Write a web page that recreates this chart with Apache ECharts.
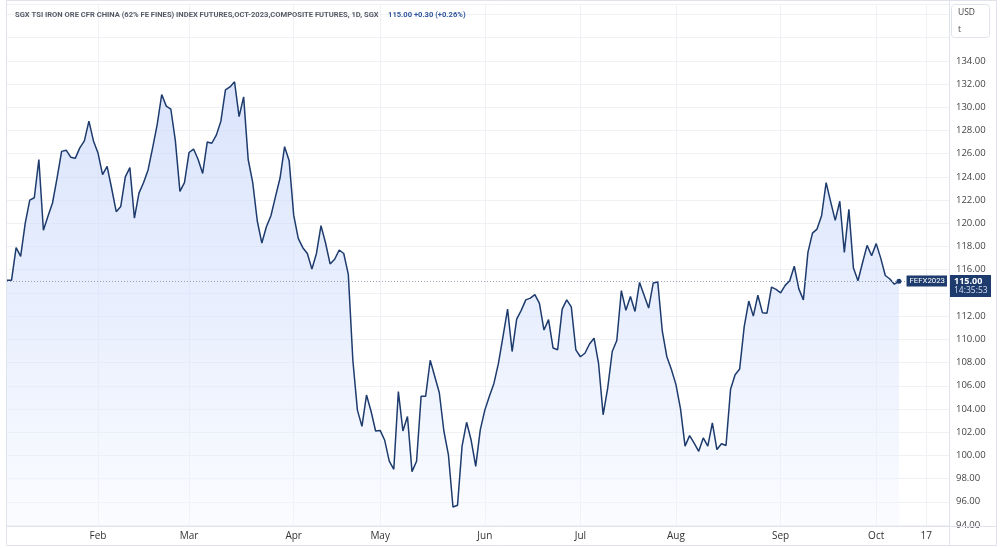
<!DOCTYPE html>
<html>
<head>
<meta charset="utf-8">
<title>FEFX2023</title>
<script src="https://cdn.jsdelivr.net/npm/echarts@6/dist/echarts.min.js"></script>
<style>
  html, body { margin: 0; padding: 0; background: #fff; }
  #chart { width: 1000px; height: 548px; }
</style>
</head>
<body>
<div id="chart"></div>
<script>
  // trading calendar (weekdays, minus the two exchange holidays seen on the axis)
  const firstDay = '2023-01-04';
  const holidays = ['2023-04-07', '2023-06-02'];
  const barCount = 208; // includes the empty future bars on the right
  const monthNames = ['Jan', 'Feb', 'Mar', 'Apr', 'May', 'Jun', 'Jul', 'Aug', 'Sep', 'Oct', 'Nov', 'Dec'];
  const dayLabels = ['2023-10-17'];

  // daily closes
  const prices = [
    115.1, 115.1, 117.9, 117.15, 120.0, 122.0, 122.2, 125.5, 119.4, 120.6,
    121.75, 123.9, 126.2, 126.3, 125.7, 125.6, 126.5, 127.1, 128.8, 127.1,
    126.05, 124.2, 124.9, 123.0, 121.0, 121.45, 124.0, 124.8, 120.45, 122.6,
    123.5, 124.6, 126.5, 128.5, 131.1, 130.1, 129.85, 127.1, 122.75, 123.5,
    126.1, 126.4, 125.5, 124.3, 127.0, 126.9, 127.6, 128.8, 131.5, 131.75,
    132.2, 129.2, 130.9, 125.5, 123.5, 120.2, 118.3, 119.7, 120.65, 122.3,
    123.9, 126.6, 125.4, 120.7, 118.7, 117.9, 117.4, 116.05, 117.4, 119.8,
    118.3, 116.5, 116.9, 117.7, 117.4, 115.6, 108.2, 103.9, 102.5, 105.2,
    103.8, 102.1, 102.15, 101.3, 99.5, 98.8, 105.5, 102.1, 103.35, 98.6,
    99.5, 105.1, 105.1, 108.2, 106.8, 105.4, 102.1, 100.05, 95.55, 95.7,
    100.8, 102.85, 101.3, 99.05, 102.2, 103.9, 105.1, 106.2, 107.95, 110.25,
    112.6, 108.95, 111.75, 112.5, 113.4, 113.55, 113.85, 113.1, 110.8, 111.7,
    109.25, 109.1, 112.6, 113.4, 112.8, 109.1, 108.5, 108.8, 109.6, 110.1,
    107.9, 103.5, 105.8, 108.95, 109.9, 114.2, 112.5, 113.7, 112.4, 114.9,
    113.8, 112.7, 114.85, 114.95, 110.7, 108.5, 107.4, 106.1, 104.0, 100.8,
    101.7, 101.05, 100.35, 101.5, 100.8, 102.8, 100.5, 101.0, 100.85, 105.7,
    106.95, 107.45, 111.1, 113.3, 112.0, 113.8, 112.3, 112.25, 114.5, 114.3,
    114.0, 114.65, 115.05, 116.3, 114.35, 113.4, 117.5, 119.15, 119.5, 120.65,
    123.5, 121.85, 120.25, 121.9, 117.5, 121.2, 116.15, 115.05, 116.6, 118.1,
    117.2, 118.25, 117.0, 115.5, 115.2, 114.75, 115.0
  ];

  const titleText = 'SGX TSI IRON ORE CFR CHINA (62% FE FINES) INDEX FUTURES,OCT-2023,COMPOSITE FUTURES, 1D, SGX';
  const quoteText = '115.00 +0.30 (+0.26%)';
  const symbolName = 'FEFX2023';
  const clockText = '14:35:53';
  const unitLines = ['USD', 't'];

  const yMin = 94, yMax = 138.9, yStep = 2, yLabelTop = 134;

  function buildDates() {
    const out = [];
    const d = new Date(firstDay + 'T00:00:00Z');
    while (out.length < barCount) {
      const wd = d.getUTCDay();
      const s = d.toISOString().slice(0, 10);
      if (wd !== 0 && wd !== 6 && holidays.indexOf(s) < 0) out.push(s);
      d.setUTCDate(d.getUTCDate() + 1);
    }
    return out;
  }
  const dates = buildDates();

  // which categories carry a label / vertical grid line
  const labelIdx = {};
  dates.forEach((s, i) => {
    if (i > 0 && s.slice(5, 7) !== dates[i - 1].slice(5, 7)) labelIdx[i] = monthNames[+s.slice(5, 7) - 1];
    if (dayLabels.indexOf(s) >= 0) labelIdx[i] = String(+s.slice(8, 10));
  });
  const showAt = (i) => labelIdx[i] !== undefined;

  const navy = '#1d3b6d';
  const border = '#e0e3eb';
  const font = 'Open Sans';
  const smallFont = 'Roboto';
  const lastIdx = prices.length - 1;
  const lastVal = prices[lastIdx];

  const chart = echarts.init(document.getElementById('chart'), null, { renderer: 'canvas' });

  const option = {
    animation: false,
    backgroundColor: '#ffffff',
    textStyle: { fontFamily: font },
    title: {
      left: 10, top: 1,
      text: '{a|' + titleText + '}  {b|' + quoteText + '}',
      textStyle: {
        rich: {
          a: { fontFamily: smallFont, fontSize: 7.6, color: '#555a66' },
          b: { fontFamily: smallFont, fontSize: 7.6, color: '#2f56a0' }
        }
      }
    },
    grid: { left: 7, right: 51, top: 4, bottom: 23 },
    xAxis: {
      type: 'category',
      data: dates,
      boundaryGap: false,
      offset: 2,
      axisLine: { show: false },
      axisTick: { show: false },
      axisLabel: {
        interval: (i) => showAt(i),
        formatter: (v, i) => labelIdx[i] || '',
        color: '#333',
        fontSize: 10,
        margin: 4,
        fontFamily: font
      },
      splitLine: { show: true, interval: (i) => showAt(i), lineStyle: { color: '#f0f1f5', width: 1 } }
    },
    yAxis: {
      type: 'value',
      position: 'right',
      min: yMin,
      max: yMax,
      interval: yStep,
      axisLine: { show: false },
      axisTick: { show: false },
      axisLabel: {
        showMaxLabel: false,
        formatter: (v) => (v > yLabelTop ? '' : v.toFixed(2)),
        color: '#444',
        fontSize: 9.5,
        margin: 7,
        fontFamily: font
      },
      splitLine: { show: true, lineStyle: { color: '#f0f1f5', width: 1 } }
    },
    series: [{
      type: 'line',
      data: prices,
      showSymbol: false,
      symbol: 'none',
      lineStyle: { color: navy, width: 1.5 },
      areaStyle: {
        color: new echarts.graphic.LinearGradient(0, 0, 0, 1, [
          { offset: 0, color: 'rgba(194,210,250,0.85)' },
          { offset: 0.55, color: 'rgba(212,224,252,0.72)' },
          { offset: 1, color: 'rgba(244,247,254,0.6)' }
        ])
      },
      markLine: {
        silent: true,
        symbol: 'none',
        label: { show: false },
        lineStyle: { color: '#9aa1b0', type: [1, 2], width: 1 },
        data: [{ yAxis: lastVal }]
      },
      markPoint: {
        silent: true,
        symbol: 'circle',
        symbolSize: 5,
        itemStyle: { color: navy },
        label: { show: false },
        data: [{ coord: [lastIdx, lastVal] }]
      }
    }],
    graphic: [
      { id: 'frame', type: 'rect', silent: true, z: 100,
        shape: { x: 6.5, y: 0.5, width: 990, height: 545 },
        style: { fill: null, stroke: border, lineWidth: 1 } },
      { id: 'sepV', type: 'line', silent: true, z: 100,
        shape: { x1: 949.5, y1: 0, x2: 949.5, y2: 546 },
        style: { stroke: border, lineWidth: 1 } },
      { id: 'sepH', type: 'line', silent: true, z: 100,
        shape: { x1: 6, y1: 526.5, x2: 997, y2: 526.5 },
        style: { stroke: border, lineWidth: 1 } },
      { id: 'unitBox', type: 'rect', silent: true, z: 101,
        shape: { x: 951.5, y: 4.5, width: 38, height: 33, r: 3 },
        style: { fill: '#fff', stroke: border, lineWidth: 1 } },
      { id: 'unit1', type: 'text', silent: true, z: 102, x: 958, y: 13,
        style: { text: unitLines[0], fill: '#444', fontSize: 8.5, fontFamily: font, verticalAlign: 'middle' } },
      { id: 'unit2', type: 'text', silent: true, z: 102, x: 958, y: 30,
        style: { text: unitLines[1], fill: '#444', fontSize: 8.5, fontFamily: font, verticalAlign: 'middle' } }
    ]
  };

  chart.setOption(option);

  // price tags placed through the y scale
  const py = Math.round(chart.convertToPixel({ yAxisIndex: 0 }, lastVal));
  chart.setOption({
    graphic: [
      { id: 'symText', type: 'text', silent: true, z: 111, x: 947, y: py,
        style: { text: symbolName, fill: '#fff', fontSize: 7.8, fontFamily: smallFont, align: 'right', verticalAlign: 'middle',
          backgroundColor: navy, padding: [2, 2, 1, 3] } },
      { id: 'priceTag', type: 'rect', silent: true, z: 110,
        shape: { x: 950, y: py - 6, width: 41, height: 22 },
        style: { fill: navy } },
      { id: 'priceText', type: 'text', silent: true, z: 111, x: 954, y: py,
        style: { text: lastVal.toFixed(2), fill: '#fff', fontSize: 9, fontWeight: 'bold', fontFamily: font, verticalAlign: 'middle' } },
      { id: 'clock', type: 'text', silent: true, z: 111, x: 954, y: py + 10,
        style: { text: clockText, fill: '#d6def0', fontSize: 8.5, fontFamily: font, verticalAlign: 'middle' } }
    ]
  });
</script>
</body>
</html>
